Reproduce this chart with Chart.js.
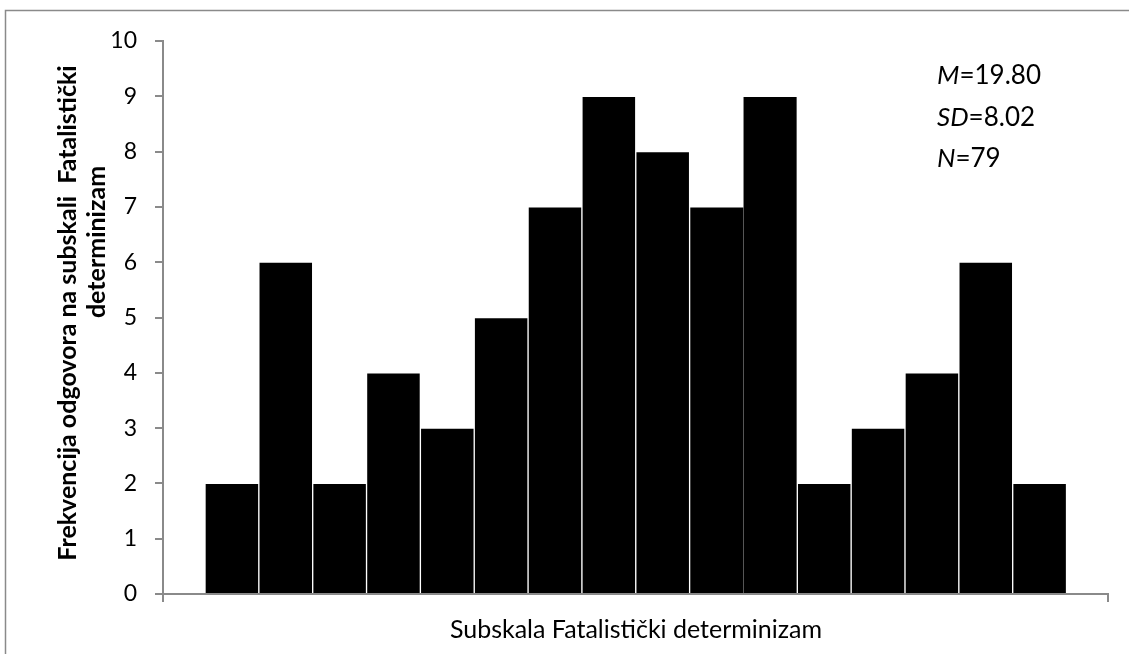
<!DOCTYPE html>
<html>
<head>
<meta charset="utf-8">
<script src="https://cdn.jsdelivr.net/npm/chart.js@4/dist/chart.umd.min.js"></script>
<style>
  html, body { margin: 0; padding: 0; background: #fff; }
  #wrap { width: 1129px; height: 654px; }
</style>
</head>
<body>
<div id="wrap"><canvas id="myChart"></canvas></div>
<script>
var razredi = [1, 2, 3, 4, 5, 6, 7, 8, 9, 10, 11, 12, 13, 14, 15, 16];
var frekvencije = [2, 6, 2, 4, 3, 5, 7, 9, 8, 7, 9, 2, 3, 4, 6, 2];
var yMin = 0;
var yMax = 10;
var naslovX = "Subskala Fatalistički determinizam";
var naslovY = ["Frekvencija odgovora na subskali  Fatalistički", "determinizam"];
var statistika = [["M", "=19.80"], ["SD", "=8.02"], ["N", "=79"]];

var FONT = "Lato, 'Open Sans', sans-serif";

function tocke() {
  var out = [];
  for (var i = 0; i < razredi.length; i++) {
    out.push({ x: razredi[i], y: frekvencije[i] });
  }
  return out;
}

// okvir, naslovi osi i tekst sa statistikom
var dodatci = {
  id: "dodatci",
  beforeDraw: function(chart) {
    var c = chart.ctx;
    c.save();
    c.fillStyle = "#fff";
    c.fillRect(0, 0, chart.width, chart.height);
    c.strokeStyle = "#8a8a8a";
    c.lineWidth = 1.5;
    c.strokeRect(5.5, 10.5, chart.width + 20, chart.height + 20);
    c.restore();
  },
  afterDraw: function(chart) {
    var c = chart.ctx;
    c.save();
    c.fillStyle = "#000";
    c.textBaseline = "middle";

    c.font = "bold 25px " + FONT;
    c.textAlign = "center";
    c.save();
    c.translate(68, 313);
    c.rotate(-Math.PI / 2);
    c.fillText(naslovY[0], 0, 0);
    c.restore();
    c.save();
    c.translate(97, 242);
    c.rotate(-Math.PI / 2);
    c.fillText(naslovY[1], 0, 0);
    c.restore();

    c.font = "25px " + FONT;
    c.textBaseline = "alphabetic";
    c.fillText(naslovX, 636, 638);

    c.textAlign = "left";
    var baze = [84, 126, 167];
    for (var i = 0; i < statistika.length; i++) {
      c.font = "italic 26px " + FONT;
      c.fillText(statistika[i][0], 937, baze[i]);
      var w = c.measureText(statistika[i][0]).width;
      c.font = "26px " + FONT;
      c.fillText(statistika[i][1], 937 + w, baze[i]);
    }
    c.restore();
  }
};

function init() {
  var ctx = document.getElementById("myChart");
  var chart = new Chart(ctx, {
    type: "bar",
    data: {
      datasets: [{
        data: tocke(),
        backgroundColor: "#000",
        borderColor: "#fff",
        borderWidth: function(k) {
          if (k.dataIndex === 9) return { left: 1, right: 0, top: 1, bottom: 0 };
          if (k.dataIndex === 10) return { left: 0, right: 1, top: 1, bottom: 0 };
          return 1;
        },
        barPercentage: 1,
        categoryPercentage: 1
      }]
    },
    options: {
      responsive: true,
      maintainAspectRatio: false,
      animation: false,
      layout: { padding: { left: 0, right: 21, top: 41, bottom: 0 } },
      plugins: {
        legend: { display: false },
        tooltip: { enabled: false }
      },
      scales: {
        x: {
          type: "linear",
          offset: false,
          min: -0.28,
          max: 17.27,
          afterBuildTicks: function(s) {
            s.ticks = [{ value: s.min }, { value: s.max }];
          },
          afterFit: function(s) { s.height = 60; },
          ticks: { display: false },
          grid: { offset: false, drawOnChartArea: false, drawTicks: true, tickLength: 8, color: "#8a8a8a", lineWidth: 2 },
          border: { color: "#8a8a8a", width: 2 }
        },
        y: {
          min: yMin,
          max: yMax,
          afterFit: function(s) { s.width = 163; },
          ticks: { stepSize: 1, padding: 18, color: "#000", font: { family: FONT, size: 23 } },
          grid: { drawOnChartArea: false, drawTicks: true, tickLength: 8, color: "#8a8a8a", lineWidth: 2 },
          border: { color: "#8a8a8a", width: 2 }
        }
      }
    },
    plugins: [dodatci]
  });
}

init();
</script>
</body>
</html>
